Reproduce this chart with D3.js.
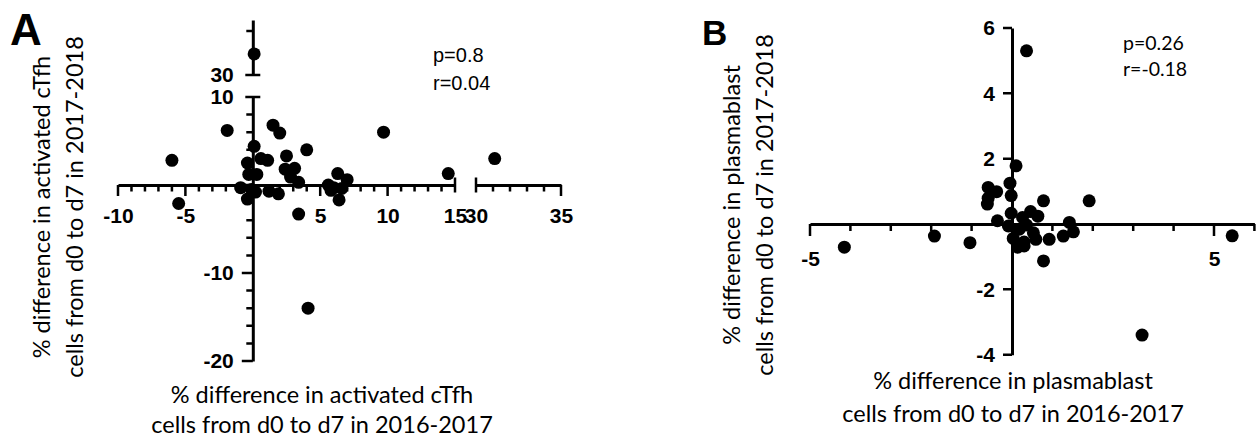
<!DOCTYPE html>
<meta charset="utf-8">
<script src="https://d3js.org/d3.v7.min.js"></script>
<style>
  body { margin: 0; background: #fff; }
</style>
<body>
<div id="chart"></div>
<script>
// ---- data ----
// panel A: % difference in activated cTfh, 2016-2017 (x) vs 2017-2018 (y)
const aDiff1617 = [-6.0, -5.5, -1.9, 1.5, 2.0, 0.1, -0.4, 0.6, 1.1, 2.5, 4.0, 9.7, 14.5, 31.1,
  -0.3, 0.3, -0.9, -0.4, 0.2, 1.2, 1.9, 2.4, 3.1, 2.8, 3.4, 3.4, 5.6, 5.8, 6.3, 7.0, 6.6, 6.4,
  0.1, 4.1, -0.1, 6.0];
const aDiff1718 = [2.8, -2.1, 6.2, 6.8, 5.9, 4.4, 2.5, 3.0, 2.8, 3.3, 4.0, 6.0, 1.3, 3.0,
  1.2, 1.2, -0.3, -1.6, -0.8, -0.7, -1.0, 1.8, 1.9, 0.9, 0.3, -3.3, 0.0, -0.6, 1.3, 0.6, -0.4, -1.7,
  32.4, -14.0, -0.5, -0.3];
// panel B: % difference in plasmablast
const bDiff1617 = [-4.15, -1.92, -1.04, -0.36, -0.59, -0.38, -0.59, -0.61, -0.05, 0.1, -0.02, -0.02,
  -0.09, 0.78, 1.91, 0.46, 0.64, 0.26, 0.36, 0.18, 0.53, 0.03, 0.59, 0.92, 0.14, 0.3, 0.78, 1.27,
  1.42, 1.52, 5.45, 0.36, 3.22, 0.3];
const bDiff1718 = [-0.71, -0.37, -0.57, 0.1, 1.12, 0.99, 0.79, 0.61, 1.25, 1.78, 0.87, 0.33,
  -0.06, 0.71, 0.71, 0.38, 0.24, 0.2, -0.03, -0.16, -0.27, -0.44, -0.47, -0.47, -0.71, -0.67, -1.13, -0.37,
  0.05, -0.24, -0.36, 5.3, -3.4, -0.55];

// tick labels
const aXTicks = [-10, -5, 0, 5, 10, 15];
const aXTicksHigh = [30, 35];
const aYTicks = [-20, -10, 0, 10];
const aYTicksHigh = [30];
const bXTicks = [-5, 5];
const bYTicks = [-4, -2, 0, 2, 4, 6];

const statsA = ["p=0.8", "r=0.04"];
const statsB = ["p=0.26", "r=-0.18"];
const titleA = ["% difference in activated cTfh", "cells from d0 to d7 in 2016-2017", "cells from d0 to d7 in 2017-2018"];
const titleB = ["% difference in plasmablast", "cells from d0 to d7 in 2016-2017", "cells from d0 to d7 in 2017-2018"];

const tickFont = "'Liberation Sans', Arial, sans-serif";
const titleFont = "Lato, 'Noto Sans', sans-serif";

const svg = d3.select("#chart")
  .append("svg")
  .attr("width", 1260)
  .attr("height", 445);

// scales (broken axes in panel A)
const xA1 = d3.scaleLinear().domain([-10, 15]).range([118, 455]);
const xA2 = d3.scaleLinear().domain([30, 35]).range([476, 561]);
const yA1 = d3.scaleLinear().domain([-20, 10]).range([361, 97]);
const yA2 = d3.scaleLinear().domain([30, 36.25]).range([75, 20]);
const xA = v => v > 20 ? xA2(v) : xA1(v);
const yA = v => v > 20 ? yA2(v) : yA1(v);

const xB = d3.scaleLinear().domain([-5, 6]).range([810, 1254.4]);
const yB = d3.scaleLinear().domain([-4, 6]).range([354.7, 28]);

const fmt = d => d === 0 ? "" : String(d);

// axis line + labels from d3.axis
function drawAxis(gen, transform) {
  const g = svg.append("g")
    .attr("transform", transform)
    .call(gen)
    .attr("font-family", tickFont)
    .attr("font-weight", "bold")
    .attr("font-size", 21);
  g.select(".domain").attr("stroke-width", 3).attr("stroke", "#000");
  g.selectAll(".tick line").remove();
  g.selectAll(".tick text").attr("fill", "#000");
  return g;
}

// tick marks as one path per set, through the scale
const tickSets = [];
function tickMarks(scale, values, horizontal, at, len) {
  const d = values.map(v => {
    const p = scale(v);
    return horizontal ? `M${p},${at}V${at + len}` : `M${at},${p}H${at - len}`;
  }).join("");
  tickSets.push(d);
}

// ---- panel A axes ----
const ax0 = yA1(0), ay0 = xA1(0);
drawAxis(d3.axisBottom(xA1).tickValues(aXTicks).tickFormat(fmt).tickSize(11).tickPadding(12).tickSizeOuter(0),
  `translate(0,${ax0})`);
drawAxis(d3.axisBottom(xA2).tickValues(aXTicksHigh).tickFormat(fmt).tickSize(11).tickPadding(12).tickSizeOuter(0),
  `translate(0,${ax0})`);
drawAxis(d3.axisLeft(yA1).tickValues(aYTicks).tickFormat(fmt).tickSize(11).tickPadding(8).tickSizeOuter(0),
  `translate(${ay0},0)`);
drawAxis(d3.axisLeft(yA2).tickValues(aYTicksHigh).tickFormat(fmt).tickSize(11).tickPadding(8).tickSizeOuter(0),
  `translate(${ay0},0)`);

tickMarks(xA1, aXTicks.filter(d => d !== 15), true, ax0, 11);
tickMarks(xA1, d3.range(-9, 15).filter(d => d % 5 !== 0), true, ax0, 6.5);
tickMarks(xA2, [35], true, ax0, 11);
tickMarks(xA2, [31, 32, 33, 34], true, ax0, 6.5);
tickMarks(yA1, aYTicks.filter(d => d !== 10), false, ay0, 11);
tickMarks(yA1, d3.range(-18, 10, 2).filter(d => d % 10 !== 0), false, ay0, 6.5);
tickMarks(yA2, [35], false, ay0, 6.5);

// break caps
[xA1(15), xA2(30)].forEach(x => {
  svg.append("line").attr("x1", x).attr("x2", x).attr("y1", ax0 - 7.5).attr("y2", ax0 + 7.5)
    .attr("stroke", "#000").attr("stroke-width", 2.5);
});
[yA1(10), yA2(30)].forEach(y => {
  svg.append("line").attr("x1", ay0 - 7.5).attr("x2", ay0 + 7.5).attr("y1", y).attr("y2", y)
    .attr("stroke", "#000").attr("stroke-width", 2.5);
});

// ---- panel B axes ----
const bx0 = yB(0), by0 = xB(0);
drawAxis(d3.axisBottom(xB).tickValues(bXTicks).tickFormat(fmt).tickSize(12).tickPadding(15).tickSizeOuter(0),
  `translate(0,${bx0})`);
drawAxis(d3.axisLeft(yB).tickValues(bYTicks).tickFormat(fmt).tickSize(9).tickPadding(8).tickSizeOuter(0),
  `translate(${by0},0)`);

tickMarks(xB, bXTicks, true, bx0, 12);
tickMarks(xB, d3.range(-4, 7).filter(d => d !== 5), true, bx0, 7);
tickMarks(yB, bYTicks, false, by0, 9);

// ---- points ----
svg.append("g").selectAll("circle")
  .data(d3.zip(aDiff1617, aDiff1718))
  .join("circle")
  .attr("cx", d => xA(d[0]))
  .attr("cy", d => yA(d[1]))
  .attr("r", 6.5)
  .attr("fill", "#000");

svg.append("g").selectAll("circle")
  .data(d3.zip(bDiff1617, bDiff1718))
  .join("circle")
  .attr("cx", d => xB(d[0]))
  .attr("cy", d => yB(d[1]))
  .attr("r", 6.5)
  .attr("fill", "#000");

// ---- texts ----
function label(x, y, txt, size, family, weight, anchor, rotate) {
  const t = svg.append("text")
    .attr("x", x).attr("y", y)
    .attr("font-family", family)
    .attr("font-size", size)
    .attr("font-weight", weight || "normal")
    .attr("text-anchor", anchor || "start")
    .attr("fill", "#000")
    .text(txt);
  if (rotate) t.attr("transform", `rotate(-90,${x},${y})`);
  return t;
}

label(10, 45, "A", 44, tickFont, "bold");
label(702, 45, "B", 35, tickFont, "bold");

statsA.forEach((s, i) => label(433, 62 + i * 28, s, 20, tickFont));
statsB.forEach((s, i) => label(1123, 50 + i * 26, s, 19.5, titleFont));

// axis titles
label(322, 403, titleA[0], 23.5, titleFont, "normal", "middle");
label(322, 433, titleA[1], 23.5, titleFont, "normal", "middle");
label(50, 207, titleA[0], 23.5, titleFont, "normal", "middle", true);
label(83, 207, titleA[2], 23.5, titleFont, "normal", "middle", true);

label(1013, 389, titleB[0], 23.5, titleFont, "normal", "middle");
label(1013, 422, titleB[1], 23.5, titleFont, "normal", "middle");
label(740, 205, titleB[0], 23.5, titleFont, "normal", "middle", true);
label(773, 205, titleB[2], 23.5, titleFont, "normal", "middle", true);

// ticks last, on top of everything
svg.append("g").selectAll("path")
  .data(tickSets)
  .join("path")
  .attr("d", d => d)
  .attr("fill", "none")
  .attr("stroke", "#000")
  .attr("stroke-width", 2.5);
</script>
</body>
</html>
